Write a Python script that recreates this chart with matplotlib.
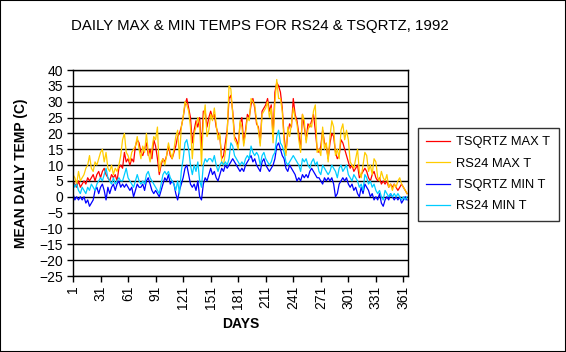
import numpy as np
import matplotlib
matplotlib.use("Agg")
import matplotlib.pyplot as plt
from matplotlib.patches import Rectangle

plt.rcParams['font.family'] = ['Liberation Sans', 'DejaVu Sans']

# readings every second day (day 1, 3, ..., 365)
days = np.arange(1, 366, 2)

tsqrtz_max = [
    5, 4, 3, 5, 3, 4, 5, 4, 6, 5, 6, 7, 5, 7, 8, 6, 8, 9, 7, 6,
    5, 7, 6, 7, 5, 9, 10, 9, 14, 11, 12, 10, 12, 11, 16, 18, 17, 14, 13, 15,
    17, 13, 15, 12, 18, 16, 12, 7, 10, 12, 11, 13, 16, 13, 12, 14, 16, 19, 20, 22,
    25, 29, 31, 28, 25, 17, 21, 24, 22, 25, 15, 27, 27, 22, 25, 27, 25, 26, 22, 20,
    19, 12, 13, 17, 21, 31, 32, 27, 19, 18, 16, 23, 25, 17, 21, 26, 25, 29, 31, 28,
    23, 22, 17, 27, 28, 29, 31, 27, 29, 19, 33, 36, 35, 33, 28, 19, 14, 20, 23, 22,
    31, 26, 24, 20, 15, 26, 22, 18, 23, 22, 24, 26, 21, 15, 14, 16, 21, 17, 16, 12,
    17, 20, 19, 14, 12, 13, 18, 17, 15, 13, 11, 9, 10, 8, 9, 10, 6, 7, 8, 9,
    8, 6, 5, 7, 8, 6, 5, 6, 4, 5, 4, 5, 3, 4, 3, 4, 3, 2, 3, 4, 3, 2, 1,
]
rs24_max = [
    7, 6, 4, 8, 5, 6, 7, 9, 10, 13, 9, 8, 11, 10, 12, 14, 15, 11, 14, 9,
    8, 10, 7, 9, 8, 10, 13, 18, 20, 14, 13, 11, 14, 15, 16, 19, 15, 12, 16, 14,
    20, 14, 11, 15, 19, 18, 22, 8, 11, 12, 10, 13, 17, 14, 12, 15, 19, 21, 12, 22,
    25, 30, 29, 27, 22, 12, 20, 22, 25, 23, 10, 24, 29, 19, 21, 26, 24, 28, 23, 18,
    20, 11, 10, 14, 20, 35, 34, 26, 18, 17, 15, 24, 22, 16, 20, 25, 24, 31, 30, 29,
    24, 21, 16, 26, 27, 28, 30, 25, 28, 17, 30, 37, 31, 31, 27, 17, 13, 22, 19, 23,
    28, 25, 23, 18, 14, 26, 24, 17, 21, 23, 22, 27, 29, 14, 15, 13, 22, 15, 17, 11,
    19, 24, 22, 13, 15, 12, 21, 23, 18, 21, 18, 11, 10, 9, 12, 15, 8, 6, 10, 14,
    13, 8, 10, 7, 12, 11, 6, 5, 8, 6, 5, 7, 3, 4, 2, 4, 3, 5, 6, 4, 3, 2, 1,
]
tsqrtz_min = [
    1, -1, 0, -1, 0, -1, 0, -2, -1, -3, -2, -1, 2, 3, 1, 3, 4, 2, -1, 3,
    1, 3, 4, 2, 4, 5, 3, 4, 3, 4, 3, 2, 3, 0, 2, 4, 3, 3, 4, 2,
    5, 6, 4, 2, 1, 2, 1, 0, 2, 4, 6, 5, 7, 4, 5, 4, 1, -1, 2, 4,
    6, 9, 10, 7, 4, 3, 4, 2, 5, 0, -1, 4, 6, 5, 7, 9, 7, 8, 6, 5,
    7, 9, 8, 10, 9, 10, 11, 12, 11, 10, 9, 8, 9, 8, 10, 11, 12, 13, 11, 12,
    10, 9, 8, 11, 12, 10, 9, 8, 9, 10, 12, 16, 17, 15, 13, 12, 9, 8, 10, 9,
    8, 7, 5, 6, 5, 7, 6, 7, 6, 8, 9, 8, 7, 6, 6, 5, 4, 6, 5, 6,
    5, 6, 4, 0, 1, 4, 5, 6, 5, 6, 4, 3, 4, 2, 3, 1, 0, 3, 1, 4,
    3, 2, 0, 1, -1, 0, -1, 1, -2, -3, -1, 0, -1, 1, 0, -1, 0, -1, 0, -2, -1, 0, -1,
]
rs24_min = [
    5, 3, 4, 2, 1, 3, 2, 1, 3, 2, 4, 3, 2, 4, 5, 6, 5, 7, 9, 6,
    5, 4, 6, 4, 5, 6, 5, 5, 7, 9, 6, 5, 4, 3, 5, 7, 5, 4, 5, 4,
    7, 8, 6, 5, 4, 3, 2, 1, 4, 7, 8, 7, 8, 6, 5, 4, 2, 5, 1, 8,
    12, 17, 18, 15, 10, 7, 10, 8, 11, 5, 3, 10, 12, 11, 12, 12, 11, 13, 10, 8,
    10, 11, 10, 11, 10, 12, 17, 16, 13, 12, 11, 10, 11, 10, 12, 13, 12, 16, 14, 13,
    14, 13, 10, 13, 14, 12, 11, 10, 11, 13, 14, 19, 21, 17, 16, 14, 11, 10, 11, 12,
    13, 12, 11, 10, 8, 12, 11, 12, 10, 9, 11, 12, 10, 11, 8, 7, 10, 9, 8, 7,
    8, 10, 9, 8, 6, 9, 10, 8, 9, 10, 7, 6, 5, 7, 6, 5, 3, 4, 2, 7,
    6, 4, 5, 3, 4, 2, 1, 2, 0, -1, 2, 1, 0, 1, 0, 1, 0, 1, 0, -1, 0, -1, 0,
]

series = [
    ("TSQRTZ MAX T", tsqrtz_max, "#ff0000"),
    ("RS24 MAX T", rs24_max, "#ffcc00"),
    ("TSQRTZ MIN T", tsqrtz_min, "#0000ff"),
    ("RS24 MIN T", rs24_min, "#00ccff"),
]

W, H = 566, 352
fig = plt.figure(figsize=(W / 100, H / 100), dpi=100)
ax = fig.add_axes([73 / W, 1 - 276 / H, 335 / W, 206 / H])

for name, vals, col in series:
    ax.plot(days, vals, color=col, lw=0.9, label=name)

ax.set_xlim(1, 366)
ax.set_ylim(-25, 40)
ax.set_yticks(np.arange(-25, 41, 5))
ax.set_xticks(np.arange(1, 366, 30))
ax.tick_params(axis="both", direction="out", length=4, width=1, color="black",
               labelsize=10, pad=3)
ax.tick_params(axis="x", labelrotation=90)
ax.yaxis.grid(True, color="black", lw=1)
ax.set_axisbelow(True)
for sp in ax.spines.values():
    sp.set_color("black")
    sp.set_linewidth(1)

ax.set_ylabel("MEAN DAILY TEMP (C)", fontsize=10, fontweight="bold", labelpad=8)
ax.set_xlabel("DAYS", fontsize=10, fontweight="bold", labelpad=6)

fig.text(260 / W, 1 - 26 / H, "DAILY MAX & MIN TEMPS FOR RS24 & TSQRTZ, 1992",
         ha="center", va="center", fontsize=10.8)

leg = fig.legend(loc="upper left", bbox_to_anchor=(418 / W, 1 - 128 / H),
                 frameon=True, fancybox=False, fontsize=9.3, handlelength=1.8,
                 handletextpad=0.5, labelspacing=0.72, borderpad=0.65,
                 borderaxespad=0)
leg.get_frame().set_edgecolor("black")
leg.get_frame().set_linewidth(1)

fig.patches.append(Rectangle((0, 0), 1, 1, transform=fig.transFigure,
                             fill=False, ec="black", lw=1.5))

fig.savefig("out.png", dpi=100)
